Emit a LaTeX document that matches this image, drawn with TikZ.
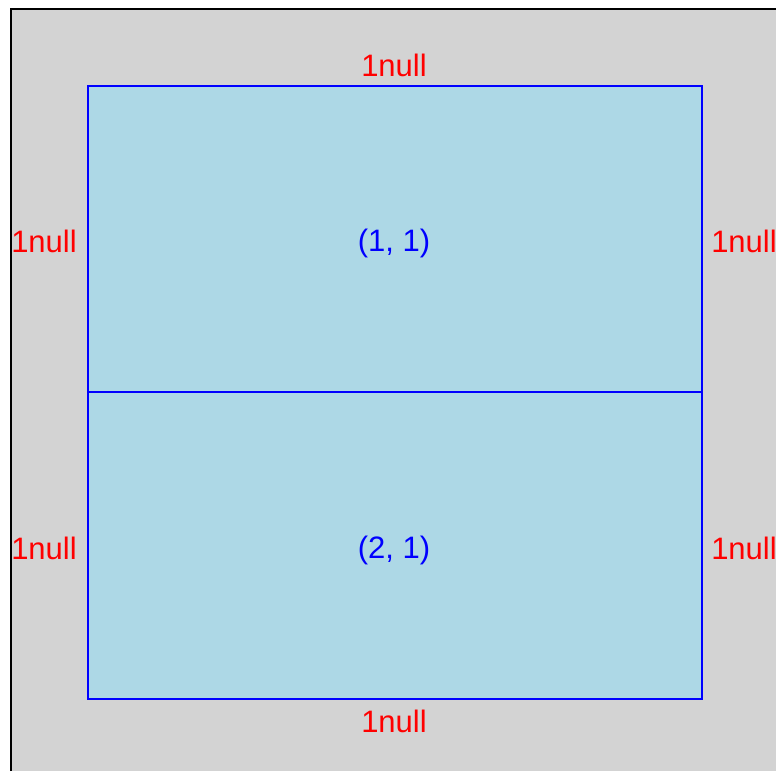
\documentclass[tikz,border=0pt]{standalone}
\usepackage{fontspec}
\setmainfont{Liberation Sans}
\definecolor{bggray}{RGB}{211,211,211}
\definecolor{cellblue}{RGB}{173,216,230}
\definecolor{pureblue}{RGB}{0,0,255}
\definecolor{purered}{RGB}{255,0,0}
\tikzset{
  cell/.style={draw=pureblue, fill=cellblue, line width=2pt, inner sep=0pt},
  edgelabel/.style={text=purered, font=\fontsize{31}{36}\selectfont, inner sep=0pt},
  celllabel/.style={text=pureblue, font=\fontsize{31}{36}\selectfont, inner sep=0pt}
}
\begin{document}
\begin{tikzpicture}[x=1pt,y=-1pt]
\useasboundingbox (0,0) rectangle (776,771);
\fill[bggray] (10,8) rectangle (776,771);
\draw[black, line width=2pt] (10.5,771) -- (10.5,8.5) -- (776,8.5);
\node[cell, minimum width=614pt, minimum height=306pt, anchor=north west] (c11) at (86.5,85) {};
\node[cell, minimum width=614pt, minimum height=307pt, anchor=north west] (c21) at (86.5,391) {};
\node[celllabel] (t11) at (394,243) {(1, 1)};
\node[celllabel] (t21) at (394,550) {(2, 1)};
\node[edgelabel] (top) at (394,65) {1null};
\node[edgelabel] (bot) at (394,721) {1null};
\node[edgelabel] (l1) at (44,241) {1null};
\node[edgelabel] (l2) at (44,548) {1null};
\node[edgelabel] (r1) at (744,241) {1null};
\node[edgelabel] (r2) at (744,548) {1null};
\end{tikzpicture}
\end{document}
